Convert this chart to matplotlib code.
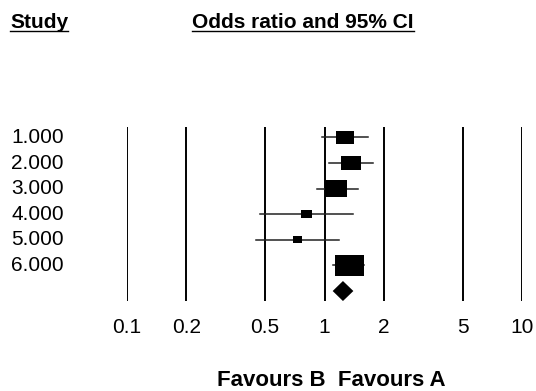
import numpy as np
import matplotlib.pyplot as plt
from matplotlib.patches import Rectangle, Polygon
from matplotlib.transforms import blended_transform_factory

# --- data ---
study_labels = ["1.000", "2.000", "3.000", "4.000", "5.000", "6.000"]
odds_ratio = [1.27, 1.36, 1.14, 0.81, 0.73, 1.34]
ci_low = [0.97, 1.06, 0.92, 0.47, 0.45, 1.11]
ci_high = [1.66, 1.75, 1.47, 1.39, 1.18, 1.59]
weights = [14.3, 18.3, 22.4, 4.9, 4.3, 35.9]   # relative study weight (%)

pooled_or = 1.24
pooled_low = 1.10
pooled_high = 1.40

tick_vals = [0.1, 0.2, 0.5, 1, 2, 5, 10]
tick_labels = ["0.1", "0.2", "0.5", "1", "2", "5", "10"]

W, H = 536, 391
plt.rcParams['font.family'] = ['Liberation Sans', 'DejaVu Sans']
fig = plt.figure(figsize=(W / 100, H / 100), dpi=100)

# axes placed in pixel terms: 0.1 at x=127, 10 at x=522, top y=127, bottom y=301
ax = fig.add_axes([127 / W, (H - 301) / H, (522 - 127) / W, (301 - 127) / H])
ax.set_xscale('log')
ax.set_xlim(0.1, 10)
ax.set_ylim(7.39, 0.59)
for s in ax.spines.values():
    s.set_visible(False)
ax.set_yticks([])
ax.minorticks_off()
ax.set_xticks(tick_vals)
ax.set_xticklabels(tick_labels, fontsize=15)
ax.tick_params(axis='x', length=0, pad=12)

for v in tick_vals:
    ax.axvline(v, color='black', lw=1.4, zorder=1)

# box size: area proportional to weight, box about 1.37x wider than tall
px_per_dec = 197.5
px_per_row = 25.6
max_area = 588.0
for i, (o, lo, hi, w) in enumerate(zip(odds_ratio, ci_low, ci_high, weights)):
    y = i + 1
    ax.plot([lo, hi], [y, y], color='#222222', lw=1.1, zorder=2)
    area = max_area * w / max(weights)
    hpx = np.sqrt(area / 1.37)
    wpx = hpx * 1.37
    dx = wpx / 2 / px_per_dec
    dy = hpx / 2 / px_per_row
    ax.add_patch(Rectangle((o * 10 ** -dx, y - dy), o * 10 ** dx - o * 10 ** -dx, 2 * dy,
                           facecolor='black', edgecolor='none', zorder=3))

yd = 7
hh = 10 / px_per_row
ax.add_patch(Polygon([(pooled_low, yd), (pooled_or, yd - hh), (pooled_high, yd), (pooled_or, yd + hh)],
                     closed=True, facecolor='black', edgecolor='none', zorder=3))

trans = blended_transform_factory(fig.transFigure, ax.transData)
for i, lab in enumerate(study_labels):
    fig.text(11 / W, i + 1, lab, transform=trans, fontsize=15, va='center', ha='left')

# headers with underline
def underlined(x, y, s):
    t = fig.text(x / W, (H - y) / H, s, fontsize=15, fontweight='bold', ha='left', va='baseline')
    return t

h1 = underlined(10, 28, "Study")
h2 = underlined(192, 28, "Odds ratio and 95% CI")
fig.canvas.draw()
r = fig.canvas.get_renderer()
for t in (h1, h2):
    bb = t.get_window_extent(r)
    yline = (H - 30.5) / H
    fig.add_artist(plt.Line2D([bb.x0 / W, bb.x1 / W], [yline, yline], color='black', lw=1.0))

fig.text(331 / W, (H - 386) / H, "Favours B  Favours A", fontsize=16, fontweight='bold',
         ha='center', va='baseline')

fig.savefig("out.png", dpi=100)
